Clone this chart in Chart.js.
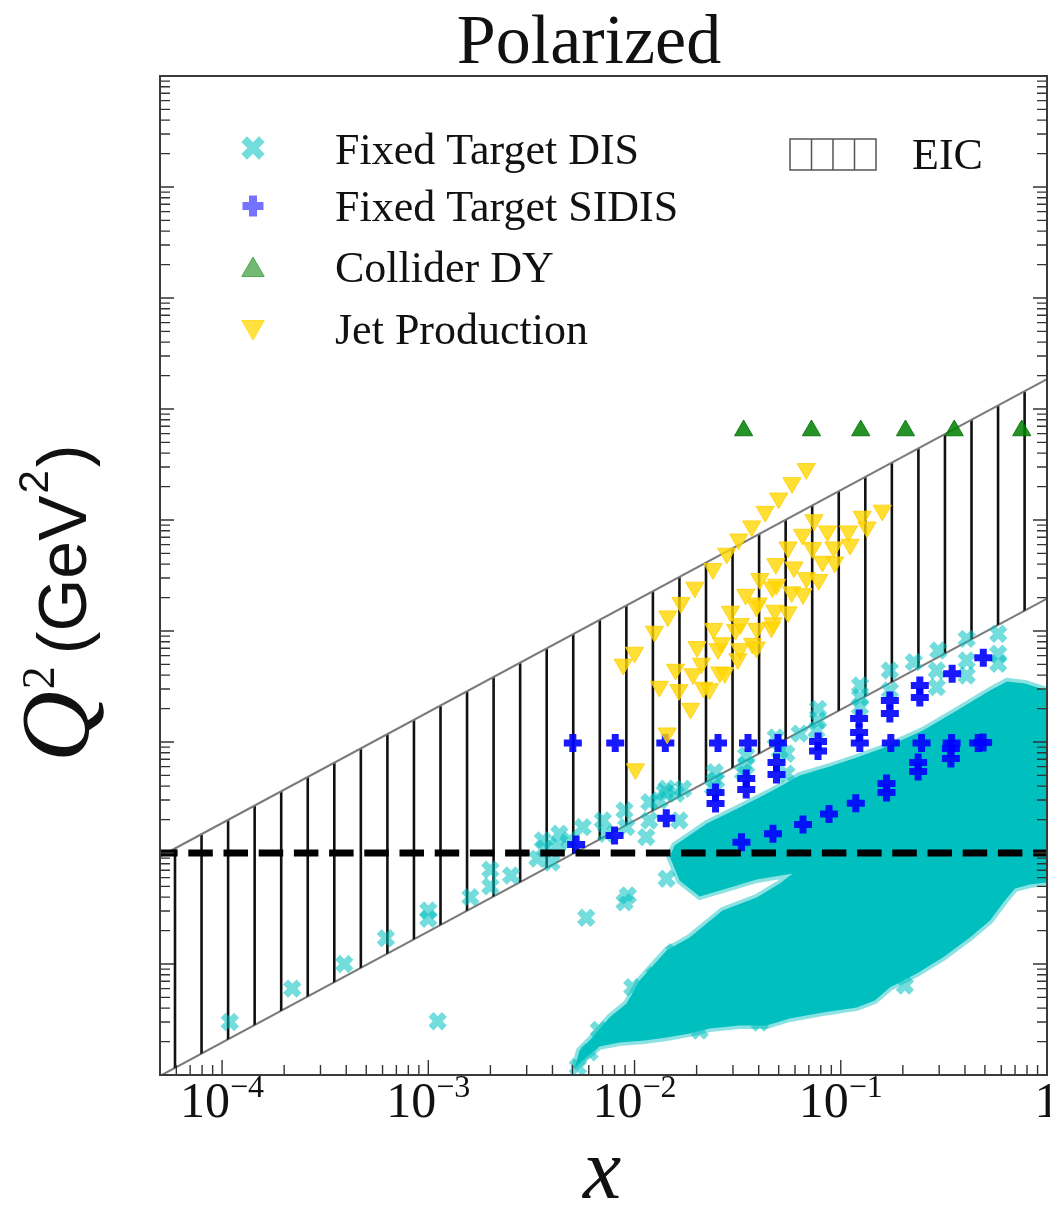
<!DOCTYPE html>
<html>
<head>
<meta charset="utf-8">
<title>Polarized</title>
<script src="https://cdn.jsdelivr.net/npm/chart.js@4.4.1/dist/chart.umd.min.js"></script>
<style>
  html, body { margin: 0; padding: 0; background: #fff; }
  #wrap { width: 1050px; height: 1208px; }
</style>
</head>
<body>
<div id="wrap"><canvas id="kinematics" width="1050" height="1208"></canvas></div>
<script>
// axis ranges
const xMin = 5e-5, xMax = 1;
const q2Min = 1e-2, q2Max = 1e7;

// x tick labels (10^n)
const xTickValues = [1e-4, 1e-3, 1e-2, 1e-1, 1];
const xTickBase = ["10", "10", "10", "10", "1"];
const xTickExp = ["\u22124", "\u22123", "\u22122", "\u22121", ""];

// EIC band: Q2 = s x y between the two edges
const eicX = [5e-5, 1];
const eicUpperQ2 = [0.93, 18600];
const eicLowerQ2 = [0.0098, 196];

// Q2 = 1 GeV2 cut
const cutX = [5e-5, 1];
const cutQ2 = [1, 1];

// Collider DY (W production)
const dyX = [0.0338, 0.0721, 0.125, 0.206, 0.355, 0.754];
const dyQ2 = [6400, 6400, 6400, 6400, 6400, 6400];

// Jet production
const jetX = [0.068, 0.058, 0.050, 0.043, 0.037, 0.032, 0.028, 0.024, 0.0196, 0.0168,
    0.0145, 0.0125, 0.0100, 0.0088, 0.0132, 0.0158, 0.0164, 0.0187, 0.0192, 0.0201,
    0.0211, 0.0216, 0.0231, 0.0242, 0.0254, 0.0264, 0.0259, 0.0274, 0.0292, 0.0309,
    0.0326, 0.0317, 0.0324, 0.0346, 0.0373, 0.0390, 0.0392, 0.0390, 0.0397, 0.0405,
    0.0466, 0.0488, 0.0469, 0.0461, 0.0484, 0.0479, 0.0555, 0.0555, 0.0578, 0.0593,
    0.0652, 0.0656, 0.0681, 0.0729, 0.0742, 0.0782, 0.0815, 0.0862, 0.0925, 0.0935,
    0.109, 0.111, 0.127, 0.134, 0.159, 0.0144, 0.0101];
const jetQ2 = [2890, 2160, 1570, 1190, 880, 670, 500, 363, 247, 180,
    136, 99, 64, 50, 31.6, 45, 29.5, 20, 41, 72,
    51, 31, 30, 105, 69, 78, 42.5, 42, 150, 103,
    116, 56, 69, 213, 77, 71.5, 105, 167, 178, 295,
    248, 262, 118, 108, 403, 153, 148, 569, 224, 376,
    740, 216, 301, 562, 1000, 289, 423, 793, 569, 417,
    793, 601, 1076, 861, 1220, 12, 5.7];

// Fixed target SIDIS
const sidisX = [0.00502, 0.00806, 0.0141, 0.0254, 0.0355, 0.0496, 0.0776, 0.1237, 0.1749, 0.2464, 0.3447, 0.4638, 0.49, 0.0776,
    0.00521, 0.0080, 0.01425, 0.0247, 0.0247, 0.0348, 0.0348, 0.0488, 0.0488,
    0.1227, 0.1227, 0.173, 0.173, 0.2417, 0.2417, 0.3468, 0.491,
    0.033, 0.0469, 0.0656, 0.0877, 0.1183, 0.1667, 0.1667, 0.2372, 0.2372, 0.342, 0.342];
const sidisQ2 = [9.8, 9.8, 9.8, 9.8, 9.8, 9.8, 10.1, 9.8, 9.8, 9.8, 9.8, 9.8, 9.9, 8.3,
    1.19, 1.44, 2.06, 3.51, 2.79, 4.69, 3.73, 6.54, 5.10,
    16.3, 12.2, 23.6, 18.1, 32.3, 25.2, 41.2, 57.4,
    1.25, 1.49, 1.81, 2.25, 2.81, 4.23, 3.51, 5.42, 6.54, 8.74, 7.1];

// Fixed target DIS, single points (low x, edges of the cloud)
const disX = [1.09e-4, 2.19e-4, 3.91e-4, 6.23e-4, 1.0e-3, 1.0e-3, 1.11e-3, 1.6e-3, 2.0e-3, 2.0e-3,
    2.52e-3, 3.38e-3, 3.66e-3, 3.96e-3, 4.23e-3, 3.59e-3, 4.32e-3, 4.84e-3, 5.61e-3, 7.02e-3,
    7.29e-3, 8.94e-3, 9.12e-3, 0.0118, 0.0118, 0.0132, 0.0143, 0.0172, 0.0159, 0.0245,
    0.0249, 0.0240, 0.0348, 0.0348, 0.0336, 0.0506, 0.0545, 0.0545, 0.0776, 0.0776,
    0.0762, 0.124, 0.124, 0.124, 0.173, 0.173, 0.226, 0.297, 0.292, 0.292,
    0.408, 0.408, 0.408, 0.580, 0.580, 0.580, 0.0143, 0.00928, 0.00894, 0.00583,
    0.0114, 0.0165, 0.0140, 0.00975, 0.00671, 0.0156, 0.00531, 0.00605, 0.00773, 0.0106,
    0.0125, 0.0207, 0.0405, 0.2045, 0.925, 0.904, 0.0632, 0.0484];
const disQ2 = [0.030, 0.060, 0.100, 0.171, 0.303, 0.255, 0.0305, 0.40, 0.706, 0.50,
    0.627, 0.89, 1.10, 0.82, 1.17, 1.30, 1.49, 1.30, 1.71, 1.96,
    1.49, 2.42, 1.71, 1.96, 2.87, 2.97, 3.79, 3.79, 3.42, 5.34,
    4.50, 3.92, 7.56, 6.14, 5.34, 8.38, 7.83, 5.17, 19.9, 15.6,
    12.7, 32.3, 25.3, 20.6, 44.1, 29.1, 52.4, 66.7, 44.1, 31.2,
    85, 54.2, 39.7, 94.4, 62.3, 50.6, 0.586, 0.414, 0.360, 0.261,
    1.39, 1.96, 3.53, 0.0618, 0.0255, 0.128, 0.0118, 0.016, 0.0252, 0.0441,
    0.0788, 0.0252, 0.0297, 0.064, 0.696, 21.3, 11.9, 11.0];

// Fixed target DIS, outline of the dense cloud of points
const disCoreX = [0.00511, 0.00541, 0.00625, 0.00756, 0.00915, 0.01058, 0.0143, 0.0185, 0.0267, 0.0391,
    0.0506, 0.0585, 0.0391, 0.0280, 0.0207, 0.01653, 0.0148, 0.01564, 0.0224, 0.0323,
    0.0468, 0.0632, 0.0884, 0.1196, 0.1729, 0.2501, 0.3657, 0.5288, 0.6394, 0.782,
    1, 1, 0.827, 0.699, 0.625, 0.529, 0.423, 0.3127, 0.2338, 0.1729,
    0.1462, 0.1196, 0.0818, 0.0565, 0.0437, 0.0323, 0.0231, 0.0185, 0.0143, 0.01118,
    0.00846, 0.00676, 0.00572, 0.00511];
const disCoreQ2 = [0.0114, 0.0166, 0.0218, 0.0330, 0.0441, 0.0710, 0.132, 0.173, 0.303, 0.397,
    0.531, 0.654, 0.577, 0.479, 0.406, 0.565, 0.930, 1.169, 1.844, 2.570,
    3.657, 4.991, 6.016, 7.252, 9.30, 12.70, 19.22, 29.1, 35.1, 33.65,
    29.1, 0.542, 0.520, 0.479, 0.373, 0.2465, 0.173, 0.1144, 0.0821, 0.0614,
    0.0469, 0.0406, 0.0366, 0.0323, 0.0279, 0.0279, 0.0262, 0.0237, 0.0218, 0.0205,
    0.0196, 0.0181, 0.0141, 0.0114];

const serif = '"Liberation Serif", "DejaVu Serif", serif';
const sans = '"Liberation Sans", "DejaVu Sans", sans-serif';

function toPoints(xs, ys) {
    return xs.map((x, i) => ({ x: x, y: ys[i] }));
}

const canvas = document.getElementById("kinematics");
const ctx = canvas.getContext("2d");

// vertical hatch for the EIC band (20 periods of 26.55px)
const hatchCanvas = document.createElement("canvas");
hatchCanvas.width = 531;
hatchCanvas.height = 8;
const hctx = hatchCanvas.getContext("2d");
hctx.fillStyle = "#111";
for (let k = 0; k < 20; k++) {
    hctx.fillRect(15.7 + 26.55 * k - 1.3, 0, 2.6, 8);
}
const hatchPattern = ctx.createPattern(hatchCanvas, "repeat");

const legendRows = [
    { label: "Fixed Target DIS", style: "crossRot", rotation: 0, radius: 12.5, width: 8, color: "rgba(0,191,191,0.55)", y: 148, base: 164 },
    { label: "Fixed Target SIDIS", style: "cross", rotation: 0, radius: 10.5, width: 8, color: "rgba(0,0,255,0.55)", y: 206, base: 221 },
    { label: "Collider DY", style: "triangle", rotation: 0, radius: 13, width: 1, color: "rgba(0,128,0,0.55)", y: 270, base: 282 },
    { label: "Jet Production", style: "triangle", rotation: 180, radius: 13, width: 1, color: "rgba(255,215,0,0.75)", y: 327, base: 344 },
];

function logTicks(scale) {
    const out = [];
    const lo = Math.floor(Math.log10(scale.min));
    const hi = Math.ceil(Math.log10(scale.max));
    for (let e = lo; e <= hi; e++) {
        for (let m = 1; m < 10; m++) {
            const v = m * Math.pow(10, e);
            if (v > scale.min * 1.001 && v < scale.max * 0.999) {
                out.push({ value: v, major: m === 1 });
            }
        }
    }
    return out;
}

const decorPlugin = {
    id: "decor",
    afterDraw(chart) {
        const c = chart.ctx;
        const area = chart.chartArea;
        const xs = chart.scales.x;
        const ys = chart.scales.y;

        c.save();

        // inward ticks: bottom, left and right
        c.strokeStyle = "#333";
        c.lineWidth = 1.4;
        c.beginPath();
        logTicks(xs).forEach((t) => {
            const px = xs.getPixelForValue(t.value);
            const len = t.major ? 15 : 10;
            c.moveTo(px, area.bottom);
            c.lineTo(px, area.bottom - len);
        });
        logTicks(ys).forEach((t) => {
            const py = ys.getPixelForValue(t.value);
            const len = t.major ? 14 : 10;
            c.moveTo(area.left, py);
            c.lineTo(area.left + len, py);
            c.moveTo(area.right, py);
            c.lineTo(area.right - len, py);
        });
        c.stroke();

        // frame
        c.strokeStyle = "#3a3a3a";
        c.lineWidth = 2;
        c.strokeRect(area.left, area.top, area.right - area.left, area.bottom - area.top);

        c.fillStyle = "#111";
        c.textAlign = "left";
        c.textBaseline = "alphabetic";

        // x tick labels
        xTickValues.forEach((v, i) => {
            const px = xs.getPixelForValue(v);
            c.font = "50px " + serif;
            const wb = c.measureText(xTickBase[i]).width;
            c.font = "32px " + serif;
            const we = xTickExp[i] ? c.measureText(xTickExp[i]).width : 0;
            const start = px - (wb + we) / 2;
            c.font = "50px " + serif;
            c.fillText(xTickBase[i], start, 1117);
            if (xTickExp[i]) {
                c.font = "32px " + serif;
                c.fillText(xTickExp[i], start + wb, 1097);
            }
        });

        // title
        c.textAlign = "center";
        c.font = "70px " + serif;
        c.fillText("Polarized", 589, 63);

        // x axis title
        c.font = "italic 86px " + serif;
        c.fillText("x", 602, 1198);

        // y axis title, rotated
        c.save();
        c.translate(88, 762);
        c.rotate(-Math.PI / 2);
        c.textAlign = "left";
        let s = 0;
        c.font = "italic 98px " + serif;
        c.fillText("Q", s, 0);
        s += c.measureText("Q").width + 2;
        c.font = "46px " + serif;
        c.fillText("2", s, -34);
        s += c.measureText("2").width + 12;
        c.font = "68px " + sans;
        c.fillText("(GeV", s, -2);
        s += c.measureText("(GeV").width + 2;
        c.font = "42px " + sans;
        c.fillText("2", s, -40);
        s += c.measureText("2").width + 3;
        c.font = "68px " + sans;
        c.fillText(")", s, -2);
        c.restore();

        // legend
        c.textAlign = "left";
        c.font = "44px " + serif;
        legendRows.forEach((row) => {
            c.fillStyle = row.color;
            c.strokeStyle = row.color;
            c.lineWidth = row.width;
            Chart.helpers.drawPoint(c, { pointStyle: row.style, rotation: row.rotation, radius: row.radius, borderWidth: row.width }, 253, row.y);
            c.fillStyle = "#111";
            c.fillText(row.label, 335, row.base);
        });

        // EIC legend patch
        c.strokeStyle = "#555";
        c.lineWidth = 1.5;
        c.strokeRect(790, 139, 86, 31);
        c.beginPath();
        for (let k = 1; k < 4; k++) {
            c.moveTo(790 + 21.5 * k, 139);
            c.lineTo(790 + 21.5 * k, 170);
        }
        c.stroke();
        c.fillStyle = "#111";
        c.fillText("EIC", 912, 169);

        c.restore();
    },
};

new Chart(ctx, {
    type: "scatter",
    data: {
        datasets: [
            {
                type: "line",
                label: "Q2 = 1",
                data: toPoints(cutX, cutQ2),
                borderColor: "#000",
                borderWidth: 7,
                borderDash: [24.5, 10.7],
                borderDashOffset: 6.9,
                pointRadius: 0,
                fill: false,
                clip: 0,
            },
            {
                label: "Jet Production",
                data: toPoints(jetX, jetQ2),
                pointStyle: "triangle",
                rotation: 180,
                pointRadius: 10.5,
                pointBackgroundColor: "rgba(255,215,0,0.8)",
                pointBorderColor: "rgba(255,205,0,0.8)",
                pointBorderWidth: 1,
                clip: 0,
            },
            {
                label: "Collider DY",
                data: toPoints(dyX, dyQ2),
                pointStyle: "triangle",
                pointRadius: 10.5,
                pointBackgroundColor: "rgba(0,128,0,0.85)",
                pointBorderColor: "rgba(0,110,0,0.85)",
                pointBorderWidth: 1,
                clip: 0,
            },
            {
                label: "Fixed Target SIDIS",
                data: toPoints(sidisX, sidisQ2),
                pointStyle: "cross",
                pointRadius: 9,
                pointBorderWidth: 7,
                pointBackgroundColor: "rgba(0,0,255,0.9)",
                pointBorderColor: "rgba(0,0,255,0.9)",
                clip: 0,
            },
            {
                label: "Fixed Target DIS",
                data: toPoints(disX, disQ2),
                pointStyle: "crossRot",
                pointRadius: 9.5,
                pointBorderWidth: 7,
                pointBackgroundColor: "rgba(0,191,191,0.55)",
                pointBorderColor: "rgba(0,191,191,0.55)",
                clip: 0,
            },
            {
                type: "line",
                label: "Fixed Target DIS (dense)",
                data: toPoints(disCoreX, disCoreQ2),
                borderColor: "rgba(0,191,191,0.45)",
                borderWidth: 7,
                backgroundColor: "rgb(0,191,191)",
                pointRadius: 0,
                fill: "shape",
                clip: 0,
            },
            {
                type: "line",
                label: "EIC",
                data: toPoints(eicX, eicUpperQ2),
                borderColor: "#7a7a7a",
                borderWidth: 2,
                backgroundColor: hatchPattern,
                pointRadius: 0,
                fill: "+1",
                clip: 0,
            },
            {
                type: "line",
                label: "EIC lower",
                data: toPoints(eicX, eicLowerQ2),
                borderColor: "#7a7a7a",
                borderWidth: 2,
                pointRadius: 0,
                fill: false,
                clip: 0,
            },
        ],
    },
    options: {
        responsive: false,
        animation: false,
        devicePixelRatio: 1,
        events: [],
        layout: {
            autoPadding: false,
            padding: { left: 0, right: 3, top: 76, bottom: 0 },
        },
        scales: {
            x: {
                type: "logarithmic",
                min: xMin,
                max: xMax,
                grid: { display: false },
                border: { display: false },
                ticks: { display: false },
                afterFit: function (scale) {
                    scale.height = 133;
                },
            },
            y: {
                type: "logarithmic",
                min: q2Min,
                max: q2Max,
                grid: { display: false },
                border: { display: false },
                ticks: { display: false },
                afterFit: function (scale) {
                    scale.width = 160;
                },
            },
        },
        plugins: {
            legend: { display: false },
            tooltip: { enabled: false },
            title: { display: false },
        },
    },
    plugins: [decorPlugin],
});
</script>
</body>
</html>
